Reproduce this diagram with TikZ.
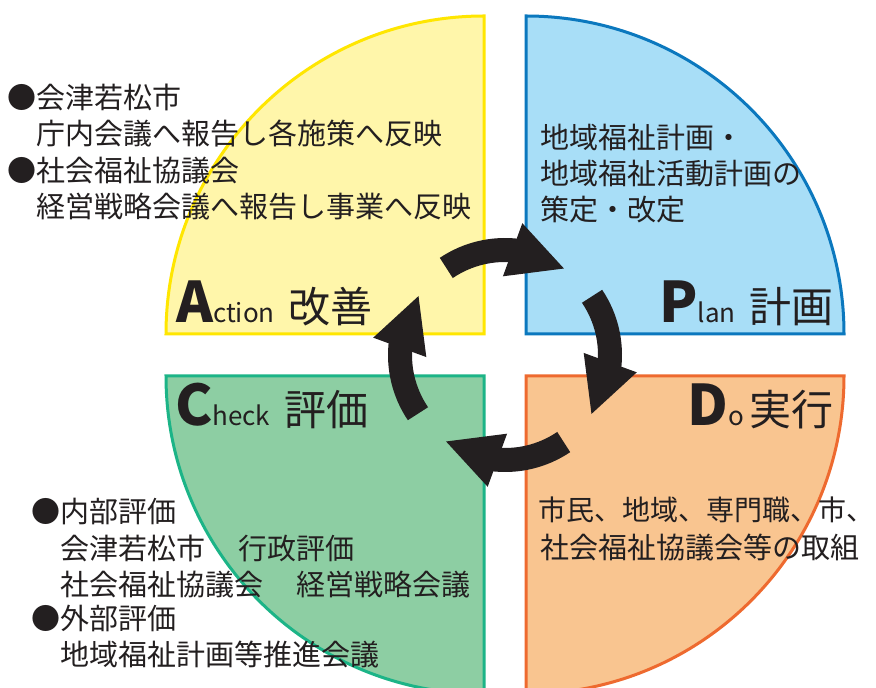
\documentclass[tikz,border=0pt]{standalone}
\usepackage{fontspec}
\setmainfont{Noto Sans CJK JP}
\usetikzlibrary{arrows.meta,bending}
\definecolor{ink}{HTML}{231F20}
\definecolor{actfill}{HTML}{FFF6AA}
\definecolor{actline}{HTML}{FFE600}
\definecolor{planfill}{HTML}{A8DEF7}
\definecolor{planline}{HTML}{0B78BE}
\definecolor{chkfill}{HTML}{8DCEA3}
\definecolor{chkline}{HTML}{1CB487}
\definecolor{dofill}{HTML}{F9C590}
\definecolor{doline}{HTML}{EE6A2F}
\newcommand{\smallpart}[1]{{\fontsize{26}{26}\selectfont #1}}
\newcommand{\bigpart}[1]{{\fontsize{56}{56}\selectfont\bfseries #1}}
\newcommand{\jpart}[1]{{\fontsize{42}{42}\selectfont #1}}
\begin{document}
\begin{tikzpicture}[x=1pt,y=1pt,
  quad/.style={line width=3pt, line join=miter},
  body/.style={inner sep=0pt, anchor=west, text=ink, font=\fontsize{29}{36}\selectfont, text height=25.5pt, text depth=3.5pt},
  big/.style={inner sep=0pt, text=ink},
  cyc/.style={line width=24pt, draw=ink, -{Triangle[length=56pt,width=52pt,flex]}},
]
\useasboundingbox (0,0) rectangle (876,688);
\clip (0,0) rectangle (876,688);
\fill[white] (0,0) rectangle (876,688);

% quadrants
\filldraw[quad, fill=actfill, draw=actline] (484,354) -- (484,672) arc[start angle=90,end angle=180,radius=318] -- cycle;
\filldraw[quad, fill=planfill, draw=planline] (526,354) -- (844,354) arc[start angle=0,end angle=90,radius=318] -- cycle;
\filldraw[quad, fill=chkfill, draw=chkline] (484,312) -- (166,312) arc[start angle=180,end angle=270,radius=318] -- cycle;
\filldraw[quad, fill=dofill, draw=doline] (526,312) -- (526,-6) arc[start angle=270,end angle=360,radius=318] -- cycle;

% cycle arrows
\coordinate (ctr) at (505,333);
\path (ctr) ++(124:105) coordinate (tTop);
\path (ctr) ++(34:105) coordinate (tRight);
\path (ctr) ++(-56:105) coordinate (tBottom);
\path (ctr) ++(214:105) coordinate (tLeft);
\draw[cyc] (tTop) arc[start angle=124,end angle=55,radius=105];
\draw[cyc] (tRight) arc[start angle=34,end angle=-35,radius=105];
\draw[cyc] (tBottom) arc[start angle=-56,end angle=-125,radius=105];
\draw[cyc] (tLeft) arc[start angle=214,end angle=145,radius=105];

% Action text
\node[body] (a1) at (7,590) {●会津若松市};
\node[body] (a2) at (36,554) {庁内会議へ報告し各施策へ反映};
\node[body] (a3) at (7,517) {●社会福祉協議会};
\node[body] (a4) at (36,481) {経営戦略会議へ報告し事業へ反映};

% Plan text
\node[body] (p1) at (540,550) {地域福祉計画・};
\node[body] (p2) at (540,514) {地域福祉活動計画の};
\node[body] (p3) at (540,478) {策定・改定};

% Do text
\node[body, font=\fontsize{28}{36}\selectfont] (d1) at (538,178) {市民、地域、専門職、市、};
\node[body] (d2) at (540,140) {社会福祉協議会等の取組};

% Check text
\node[body] (c1) at (31,176) {●内部評価};
\node[body] (c2) at (60,139) {会津若松市\hspace{33pt}行政評価};
\node[body] (c3) at (60,103) {社会福祉協議会\hspace{33pt}経営戦略会議};
\node[body] (c4) at (31,69) {●外部評価};
\node[body] (c5) at (60,33) {地域福祉計画等推進会議};

% labels
\node[big, anchor=base west] (la) at (176,365) {\bigpart{A}\smallpart{ction}\hspace{14pt}\jpart{改善}};
\node[big, anchor=base east] (lp) at (834,365) {\bigpart{P}\smallpart{lan}\hspace{14pt}\jpart{計画}};
\node[big, anchor=base west] (lc) at (175,262) {\bigpart{C}\smallpart{heck}\hspace{14pt}\jpart{評価}};
\node[big, anchor=base east] (ld) at (834,262) {\bigpart{D}\smallpart{o}\hspace{6pt}\jpart{実行}};
\end{tikzpicture}
\end{document}
